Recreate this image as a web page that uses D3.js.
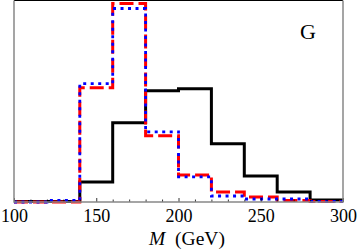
<!DOCTYPE html>
<html>
<head>
<meta charset="utf-8">
<script src="https://cdn.jsdelivr.net/npm/d3@7"></script>
<style>
  html, body { margin: 0; padding: 0; background: #fff; }
  svg { display: block; }
</style>
</head>
<body>
<div id="viz"></div>
<script>
// bin edges (GeV) and normalised histogram heights
const binEdges = [100, 120, 140, 160, 180, 200, 220, 240, 260, 280, 300];
const blackSeries = [0.002, 0.002, 0.10, 0.395, 0.555, 0.565, 0.29, 0.13, 0.05, 0.01];
const redSeries = [0.0, 0.0, 0.57, 0.99, 0.33, 0.135, 0.05, 0.025, 0.007, 0.002];
const blueSeries = [0.0, 0.008, 0.59, 0.965, 0.35, 0.125, 0.03, 0.015, 0.015, 0.003];
const xTicks = d3.range(100, 301, 10);
const xLabels = [100, 150, 200, 250, 300];

const width = 357, height = 252;
const margin = { left: 14, right: 14, top: 0.5, bottom: 50 };

const svg = d3.select('#viz')
    .append('svg')
    .attr('width', width)
    .attr('height', height);

const xScale = d3.scaleLinear()
    .domain([100, 300])
    .range([margin.left, width - margin.right]);
const yScale = d3.scaleLinear()
    .domain([0, 1.005])
    .range([height - margin.bottom, margin.top]);

const x0 = xScale(100), x1 = xScale(300);
const y0 = yScale(0), y1 = margin.top;

// step curves
function steps(vals) {
    const pts = vals.map((v, i) => [binEdges[i], v]);
    pts.push([binEdges[binEdges.length - 1], vals[vals.length - 1]]);
    return pts;
}
const line = d3.line()
    .x(d => xScale(d[0]))
    .y(d => yScale(d[1]))
    .curve(d3.curveStepAfter);

const series = [
    { vals: blackSeries, color: '#000', width: 3, dash: null },
    { vals: redSeries, color: '#f00', width: 3, dash: '14,5' },
    { vals: blueSeries, color: '#00f', width: 2.8, dash: '3,4.5' },
];

svg.append('g')
    .selectAll('path')
    .data(series)
    .join('path')
    .attr('d', d => line(steps(d.vals)))
    .attr('fill', 'none')
    .attr('stroke', d => d.color)
    .attr('stroke-width', d => d.width)
    .attr('stroke-dasharray', d => d.dash)
    .attr('stroke-linejoin', 'miter');

// bottom axis
const xAxis = svg.append('g')
    .attr('transform', `translate(0,${y0})`)
    .call(d3.axisBottom(xScale)
        .tickValues(xTicks)
        .tickSizeInner(-3)
        .tickSizeOuter(0)
        .tickFormat(d => xLabels.includes(d) ? d : ''));
xAxis.select('.domain').remove();
xAxis.selectAll('.tick line')
    .attr('stroke', '#000')
    .attr('stroke-width', 0.8)
    .attr('y2', d => xLabels.includes(d) ? -4 : -2.5);
xAxis.selectAll('.tick text')
    .attr('y', 20)
    .attr('dy', 0)
    .attr('font-family', '"Liberation Serif", "Times New Roman", serif')
    .attr('font-size', 18)
    .attr('fill', '#000');

// frame
svg.append('line')
    .attr('x1', x0).attr('x2', x1).attr('y1', y1).attr('y2', y1)
    .attr('stroke', '#000').attr('stroke-width', 1.2);
svg.append('path')
    .attr('d', `M${x0},${y1}V${y0}H${x1}V${y1}`)
    .attr('fill', 'none')
    .attr('stroke', '#888')
    .attr('stroke-width', 1.5);

// axis title
const title = svg.append('text')
    .attr('x', 187)
    .attr('y', 245)
    .attr('text-anchor', 'middle')
    .attr('font-family', '"Liberation Serif", "Times New Roman", serif')
    .attr('font-size', 19.5);
title.append('tspan').attr('font-style', 'italic').text('M');
title.append('tspan').text('\u00a0\u00a0(GeV)');

// panel label
svg.append('text')
    .attr('x', 300)
    .attr('y', 39)
    .attr('font-family', '"Liberation Serif", "Times New Roman", serif')
    .attr('font-size', 22)
    .text('G');
</script>
</body>
</html>
